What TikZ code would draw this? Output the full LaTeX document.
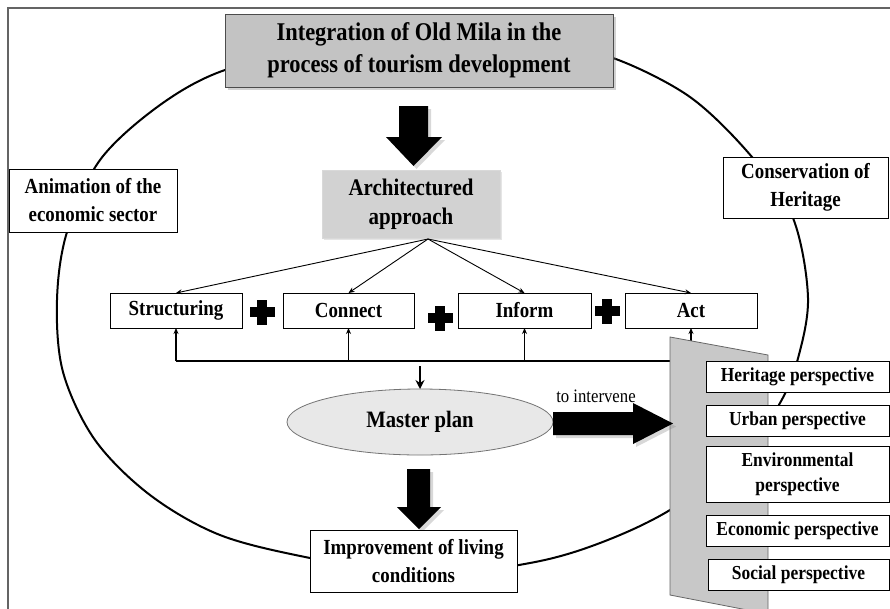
\documentclass[tikz,border=0pt]{standalone}
\usepackage{fontspec}
\setmainfont{Liberation Serif}[FakeStretch=0.88]
\usetikzlibrary{arrows.meta,shapes.geometric,shadows,calc}
\definecolor{framegray}{HTML}{646464}
\definecolor{titlefill}{HTML}{C3C3C3}
\definecolor{archfill}{HTML}{D2D2D2}
\definecolor{ellfill}{HTML}{E8E8E8}
\definecolor{panelfill}{HTML}{C8C8C8}
\begin{document}
\begin{tikzpicture}[x=1pt,y=-1pt,
  every node/.style={inner sep=0pt, outer sep=0pt},
  box/.style={draw=black, fill=white, line width=0.8pt, align=center,
    font=\bfseries\fontsize{21.5}{28}\selectfont},
  pbox/.style={box, minimum width=183pt, font=\bfseries\fontsize{19.8}{25}\selectfont},
  titlebox/.style={draw=black!70, fill=titlefill, line width=0.8pt, align=center,
    font=\bfseries\fontsize{25.5}{32}\selectfont,
    drop shadow={shadow xshift=3pt, shadow yshift=-3pt, opacity=0.35}},
  archbox/.style={draw=black!15, fill=archfill, align=center,
    font=\bfseries\fontsize{23.8}{29}\selectfont,
    drop shadow={shadow xshift=2pt, shadow yshift=-2pt, opacity=0.2}},
  block/.style={fill=black, drop shadow={shadow xshift=3pt, shadow yshift=-3pt, opacity=0.3}},
  conn/.style={line width=0.9pt, -{Stealth[length=6pt,width=5pt]}},
  plus/.style={fill=black},
]
\clip (0,0) rectangle (890,608);
\useasboundingbox (0,0) rectangle (890,608);
\fill[white] (0,0) rectangle (890,608);

% outer frame
\draw[framegray, line width=2.5pt] (8,615) -- (8,8) -- (898,8);

% big ellipse-like loop
\draw[line width=2pt] plot[smooth cycle, tension=0.55] coordinates {
  (420,47) (560,52) (613,58) (690,97) (752,157) (793,218) (808,298)
  (797,362) (780,403) (745,455) (670,510) (600,543) (530,563) (420,576)
  (310,558) (220,535) (150,495) (95,440) (63,372) (57,300) (67,232)
  (100,160) (160,105) (225,70) (320,50)};

% title
\node[titlebox, minimum width=388pt, minimum height=73pt] (title) at (419,50.5)
  {Integration of Old Mila in the\\process of tourism development};

% big arrow title -> architectured approach
\fill[block] (399,106) -- (428,106) -- (428,137) -- (442,137) -- (413.5,166)
  -- (386,137) -- (399,137) -- cycle;

\node[archbox, minimum width=178pt, minimum height=68pt] (arch) at (411,204)
  {Architectured\\approach};

\node[box, minimum width=168pt, minimum height=63pt] (anim) at (93,200.5)
  {Animation of the\\economic sector};
\node[box, minimum width=165pt, minimum height=61pt] (cons) at (805.5,187.5)
  {Conservation of\\Heritage};

% four action boxes
\node[box, minimum width=132pt, minimum height=35pt] (struct) at (176,310.5) {Structuring};
\node[box, minimum width=131pt, minimum height=35pt] (connect) at (348.5,310.5) {Connect};
\node[box, minimum width=133pt, minimum height=35pt] (inform) at (524.5,310.5) {Inform};
\node[box, minimum width=132pt, minimum height=35pt] (act) at (691,310.5) {Act};

% plus signs
\foreach \n/\px/\py in {p1/262/312, p2/440/318, p3/607/311}{
  \coordinate (\n) at (\px,\py);
  \fill[plus] ($(\n)+(-5,-12.5)$) rectangle ($(\n)+(5,12.5)$);
  \fill[plus] ($(\n)+(-12.5,-5)$) rectangle ($(\n)+(12.5,5)$);
}

% connectors from architectured approach
\coordinate (hub) at (428,239);
\draw[conn] (hub) -- (struct.north);
\draw[conn] (hub) -- (connect.north);
\draw[conn] (hub) -- (inform.north);
\draw[conn] (hub) -- (act.north);

% bus below the boxes
\coordinate (bus) at (0,361);
\draw[line width=1.4pt] (struct.south |- bus) -- (act.south |- bus);
\draw[conn, line width=1.4pt] (struct.south |- bus) -- (struct.south);
\draw[conn, line width=1.4pt] (connect.south |- bus) -- (connect.south);
\draw[conn, line width=1.4pt] (inform.south |- bus) -- (inform.south);
\draw[conn, line width=1.4pt] (act.south |- bus) -- (act.south);

% master plan
\node[ellipse, draw=black!55, fill=ellfill, line width=0.8pt,
  minimum width=266pt, minimum height=66pt,
  font=\bfseries\fontsize{23.5}{25}\selectfont] (mp) at (420,422) {Master plan};
\coordinate (mpin) at (420,366);
\draw[line width=1.6pt, -{Stealth[length=9pt,width=9pt]}] (mpin) -- (mp.north);

% panel
\filldraw[fill=panelfill, draw=black!60, line width=0.8pt]
  (670,337) -- (768,355) -- (768,614) -- (670,595) -- cycle;

% perspective boxes
\node[pbox, minimum height=31pt] (her) at (797.5,376.5) {Heritage perspective};
\node[pbox, minimum height=31pt] (urb) at (797.5,420.5) {Urban perspective};
\node[pbox, minimum height=56pt] (env) at (797.5,474) {Environmental\\perspective};
\node[pbox, minimum height=31pt] (eco) at (797.5,530.5) {Economic perspective};
\node[pbox, minimum width=181pt, minimum height=31pt] (soc) at (798.5,574.5) {Social perspective};

% right arrow
\fill[block] (553,412) -- (633,412) -- (633,403) -- (673,423.5) -- (633,444)
  -- (633,435) -- (553,435) -- cycle;
\node[font=\fontsize{19}{20}\selectfont] (interv) at (596,396) {to intervene};

% bottom arrow and box
\fill[block] (407,469) -- (430,469) -- (430,507) -- (441,507) -- (419,529)
  -- (397,507) -- (407,507) -- cycle;
\node[box, minimum width=207pt, minimum height=62pt] (impr) at (413.5,561)
  {Improvement of living\\conditions};
\end{tikzpicture}
\end{document}
